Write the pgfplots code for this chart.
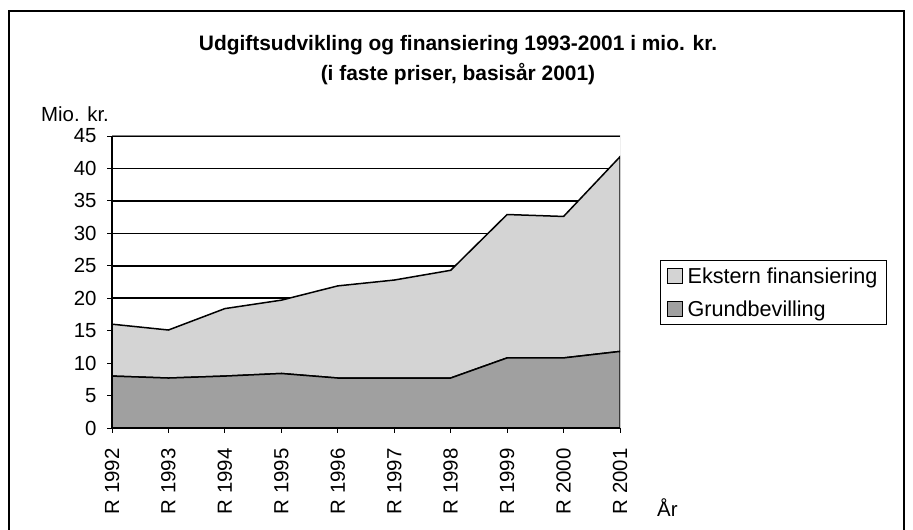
\documentclass[border=0pt]{standalone}
\usepackage{pgfplots}
\pgfplotsset{compat=1.18}
\usepackage{fontspec}
\setmainfont{Liberation Sans}
\definecolor{ekst}{RGB}{212,212,212}
\definecolor{grund}{RGB}{160,160,160}
\begin{document}
\begin{tikzpicture}[x=1bp,y=1bp]
\useasboundingbox (0,0) rectangle (913,530);
\fill[white] (0,0) rectangle (913,530);
\coordinate (O) at (112,102);
\draw[line width=1.3bp] (9,-10) -- (9,519) -- (904,519) -- (904,-10);
\node[align=center,font=\fontsize{21}{30}\selectfont\bfseries] at (458,470) {Udgiftsudvikling og finansiering 1993-2001 i mio. kr.\\(i faste priser, basisår 2001)};
\node[anchor=base west,inner sep=0pt,font=\fontsize{20.5}{24}\selectfont] at (41,408) {Mio. kr.};
\node[anchor=base west,inner sep=0pt,font=\fontsize{20.5}{24}\selectfont] at (657,13) {År};
\begin{axis}[
  at={(O)}, anchor=origin,
  scale only axis, width=508bp, height=292bp,
  xmin=0, xmax=9, ymin=0, ymax=45,
  stack plots=y,
  axis lines=left, axis line style={-, line width=1.2bp, black},
  xtick={0,...,9},
  xticklabels={R 1992,R 1993,R 1994,R 1995,R 1996,R 1997,R 1998,R 1999,R 2000,R 2001},
  ytick={0,5,...,45},
  tick align=outside, major tick length=5bp,
  tick style={black, line width=0.8bp},
  xticklabel style={rotate=90, anchor=east},
  xticklabel shift=12bp, yticklabel shift=7bp,
  ymajorgrids, grid style={black, line width=1.5bp},
  /pgf/number format/assume math mode=true,
  ticklabel style={font=\fontsize{20.5}{24}\selectfont},
  legend style={at={(1.0787,0.5753)}, anchor=north west, draw=black, line width=0.8bp,
    font=\fontsize{21.7}{24}\selectfont, row sep=12bp, inner xsep=7bp, inner ysep=5bp,
    cells={anchor=west}},
  legend image code/.code={\draw[#1, line width=0.9bp] (0bp,-7bp) rectangle (15bp,8bp);
    \path (17bp,0bp);},
  reverse legend,
]
\addplot[fill=grund, draw=black, line width=1.5bp] coordinates {
(0,8.0) (1,7.7) (2,8.0) (3,8.4) (4,7.7) (5,7.7) (6,7.7) (7,10.8) (8,10.8) (9,11.8)} \closedcycle;
\addlegendentry{Grundbevilling}
\addplot[fill=ekst, draw=black, line width=1.5bp] coordinates {
(0,8.0) (1,7.4) (2,10.4) (3,11.3) (4,14.2) (5,15.1) (6,16.6) (7,22.1) (8,21.8) (9,30.0)} \closedcycle;
\addlegendentry{Ekstern finansiering}
\draw[gray, line width=1bp] (rel axis cs:0,1) -- (rel axis cs:1,1) -- (rel axis cs:1,0);
\end{axis}
\end{tikzpicture}
\end{document}
